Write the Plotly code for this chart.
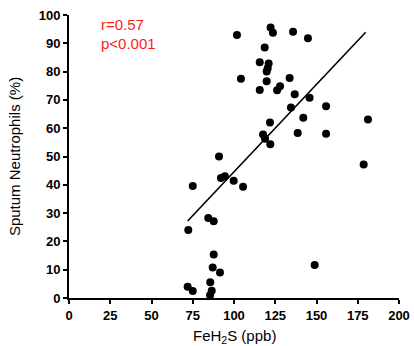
import plotly.graph_objects as go

feh2s = [101.8, 122.2, 123.6, 135.8, 144.8, 118.6, 115.6, 121.0, 120.4, 119.8,
         104.2, 119.8, 133.7, 115.6, 126.1, 127.9, 136.8, 145.8, 134.5, 155.8,
         142.0, 181.2, 121.8, 138.6, 155.8, 117.6, 118.8, 122.0, 90.9, 178.6,
         92.1, 94.5, 99.8, 105.5, 75.0, 72.3, 84.4, 87.7, 87.7, 87.1,
         91.5, 148.9, 85.6, 86.5, 85.5, 71.9, 75.0]
neutrophils = [92.9, 95.6, 93.7, 94.1, 91.8, 88.5, 83.3, 82.9, 81.2, 80.0,
               77.5, 76.6, 77.7, 73.5, 73.4, 74.8, 72.0, 70.8, 67.3, 67.8,
               63.7, 63.1, 62.0, 58.3, 58.0, 57.8, 56.3, 54.3, 50.0, 47.2,
               42.4, 43.0, 41.4, 39.3, 39.6, 24.0, 28.3, 27.1, 15.4, 10.8,
               9.0, 11.7, 5.6, 2.6, 1.0, 4.0, 2.5]
fit_x = [71.9, 179.8]
fit_y = [27.2, 93.9]
x_ticks = [0, 25, 50, 75, 100, 125, 150, 175, 200]
y_ticks = [0, 10, 20, 30, 40, 50, 60, 70, 80, 90, 100]
stats_text = ["r=0.57", "p<0.001"]
x_title = "FeH<sub>2</sub>S (ppb)"
y_title = "Sputum Neutrophils (%)"

fig = go.Figure()
fig.add_trace(go.Scatter(x=fit_x, y=fit_y, mode="lines",
                         line=dict(color="black", width=1.6), showlegend=False))
fig.add_trace(go.Scatter(x=feh2s, y=neutrophils, mode="markers",
                         marker=dict(color="black", size=8, line=dict(width=0)),
                         cliponaxis=False, showlegend=False))

fig.add_annotation(x=18, y=96.8, text=stats_text[0], showarrow=False,
                   xanchor="left", yanchor="middle",
                   font=dict(family="Liberation Sans, Arial", size=15, color="#ff1a1a"))
fig.add_annotation(x=18, y=90.0, text=stats_text[1], showarrow=False,
                   xanchor="left", yanchor="middle",
                   font=dict(family="Liberation Sans, Arial", size=15, color="#ff1a1a"))
fig.add_annotation(x=0.5, y=0, xref="paper", yref="paper", text=x_title,
                   showarrow=False, xanchor="center", yanchor="middle", yshift=-38,
                   font=dict(family="Liberation Sans, Arial", size=15, color="black"))

axis_common = dict(showgrid=False, zeroline=False, showline=True, linecolor="black",
                   linewidth=2, ticks="outside", ticklen=4, tickwidth=1.5,
                   tickcolor="black", automargin=False,
                   tickfont=dict(family="Liberation Sans, Arial", size=13, color="black",
                                 weight="bold"))
fig.update_xaxes(range=[0, 200], tickvals=x_ticks, **axis_common)
fig.update_yaxes(range=[0, 100], tickvals=y_ticks,
                 title=dict(text=y_title, standoff=14,
                            font=dict(family="Liberation Sans, Arial", size=15, color="black")),
                 **axis_common)
fig.update_layout(width=414, height=346, margin=dict(l=69, r=15, t=15, b=48),
                  plot_bgcolor="white", paper_bgcolor="white")
fig.write_html("out.html")
